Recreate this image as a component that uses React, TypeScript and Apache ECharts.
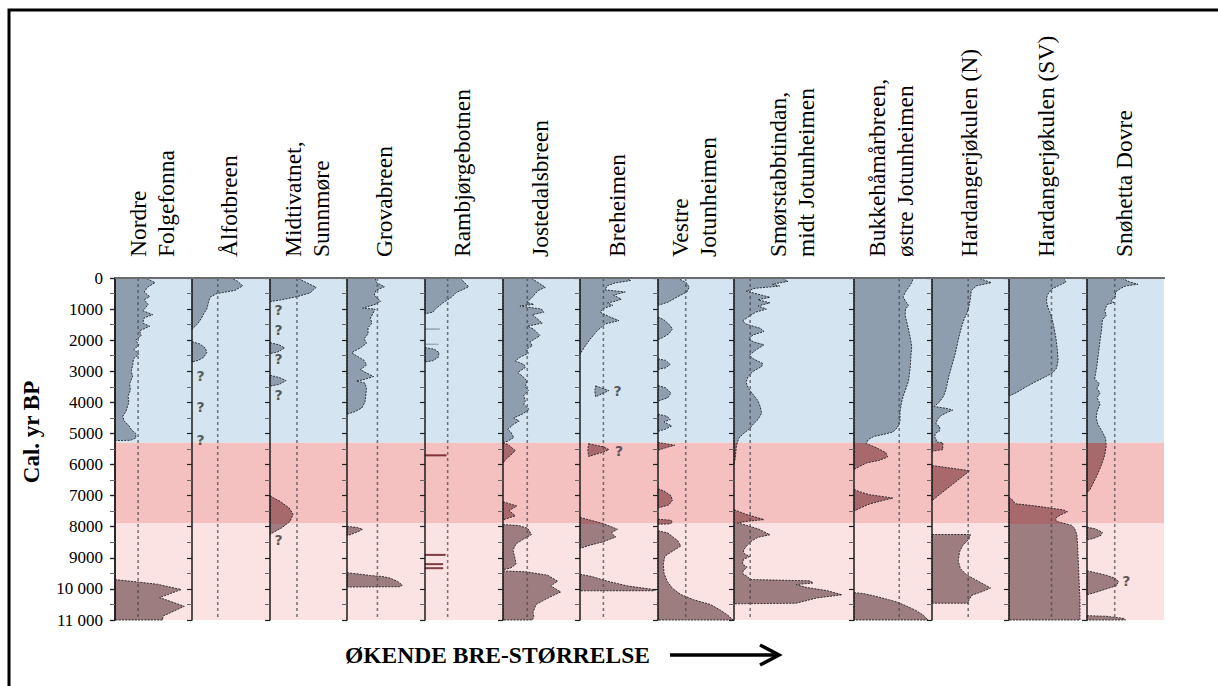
import React, { useEffect, useRef } from "react";
import * as echarts from "echarts";

// ---------- data ----------
const panelNames = [
  "Nordre\nFolgefonna",
  "Ålfotbreen",
  "Midtivatnet,\nSunnmøre",
  "Grovabreen",
  "Rambjørgebotnen",
  "Jostedalsbreen",
  "Breheimen",
  "Vestre\nJotunheimen",
  "Smørstabbtindan,\nmidt Jotunheimen",
  "Bukkehåmårbreen,\nøstre Jotunheimen",
  "Hardangerjøkulen (N)",
  "Hardangerjøkulen (SV)",
  "Snøhetta Dovre",
];

const yTickLabels = ["0", "1000", "2000", "3000", "4000", "5000", "6000", "7000", "8000", "9000", "10 000", "11 000"];

// period boundaries (cal. yr BP)
const bandEdges = [0, 5300, 7900, 11000];
const bandColors = ["#d4e5f1", "#f4c0c0", "#fbe3e3"];
const glacierFills = ["#8e9eaf", "#a8696d", "#9d7d80"];
const thinLineColors = ["#9aa9b8", "#7a2f33", "#7a3a3e"];

// present-day glacier size (fraction of panel width)
const presentSize = [0.3, 0.33, 0.35, 0.39, 0.29, 0.315, 0.3, 0.365, 0.135, 0.58, 0.47, 0.545, 0.36];

// glacier size profiles: [relative size, cal. yr BP]
const nordreFolgefonna = [
  [[0, 0], [0.4, 0], [0.52, 150], [0.42, 300], [0.38, 450], [0.45, 600], [0.38, 700], [0.43, 850], [0.4, 950], [0.36, 1050], [0.49, 1180], [0.38, 1280], [0.36, 1450], [0.45, 1550], [0.32, 1700], [0.34, 1850], [0.27, 2000], [0.31, 2150], [0.25, 2300], [0.31, 2450], [0.24, 2600], [0.23, 2800], [0.21, 3000], [0.23, 3150], [0.19, 3400], [0.2, 3600], [0.17, 3800], [0.18, 4000], [0.14, 4300], [0.1, 4450], [0.12, 4600], [0.18, 4750], [0.22, 4900], [0.27, 5000], [0.27, 5150], [0.2, 5220], [0, 5230]],
  [[0, 9700], [0.3, 9780], [0.55, 9850], [0.86, 10020], [0.58, 10280], [0.9, 10560], [0.62, 10880], [0.62, 11000], [0, 11000]],
];
const alfotbreen = [
  [[0, 0], [0.5, 0], [0.58, 100], [0.65, 250], [0.55, 400], [0.32, 500], [0.23, 620], [0.21, 800], [0.19, 1000], [0.15, 1150], [0.12, 1300], [0.08, 1450], [0.03, 1580], [0, 1650]],
  [[0, 2050], [0.1, 2120], [0.17, 2250], [0.19, 2400], [0.15, 2550], [0.08, 2650], [0, 2700]],
];
const midtivatnet = [
  [[0, 0], [0.36, 0], [0.45, 120], [0.6, 300], [0.52, 480], [0.35, 600], [0.15, 700], [0, 760]],
  [[0, 2080], [0.12, 2150], [0.19, 2250], [0.1, 2380], [0, 2430]],
  [[0, 3130], [0.12, 3200], [0.21, 3300], [0.12, 3420], [0, 3480]],
  [[0, 7000], [0.05, 7080], [0.13, 7180], [0.25, 7400], [0.3, 7600], [0.26, 7830], [0.15, 8040], [0.03, 8200], [0, 8260]],
];
const grovabreen = [
  [[0, 0], [0.36, 0], [0.38, 150], [0.48, 280], [0.37, 400], [0.35, 550], [0.43, 750], [0.36, 850], [0.2, 970], [0.36, 1000], [0.33, 1150], [0.3, 1300], [0.32, 1450], [0.27, 1600], [0.27, 1800], [0.22, 1950], [0.25, 2100], [0.17, 2250], [0.06, 2400], [0.12, 2500], [0.22, 2650], [0.25, 2800], [0.17, 2950], [0.34, 3170], [0.2, 3280], [0.12, 3310], [0.23, 3380], [0.25, 3550], [0.24, 3800], [0.23, 4000], [0.19, 4180], [0.1, 4300], [0, 4380]],
  [[0, 7990], [0.12, 8020], [0.2, 8080], [0.15, 8150], [0.05, 8250], [0, 8280]],
  [[0, 9480], [0.15, 9520], [0.3, 9570], [0.45, 9600], [0.55, 9650], [0.65, 9760], [0.71, 9880], [0.68, 9930], [0, 9940]],
];
const rambjorgebotnen = [
  [[0, 0], [0.45, 0], [0.5, 130], [0.56, 280], [0.48, 380], [0.4, 470], [0.34, 620], [0.23, 800], [0.14, 980], [0.1, 1100], [0, 1150]],
  [[0, 1635], [0.19, 1640], [0.19, 1645], [0, 1650]],
  [[0, 2125], [0.17, 2130], [0.17, 2135], [0, 2140]],
  [[0, 2240], [0.12, 2290], [0.18, 2400], [0.17, 2550], [0.1, 2660], [0, 2700]],
  [[0, 5690], [0.27, 5690], [0.27, 5720], [0, 5720]],
  [[0, 8890], [0.26, 8890], [0.26, 8920], [0, 8920]],
  [[0, 9190], [0.23, 9190], [0.23, 9220], [0, 9220]],
  [[0, 9320], [0.23, 9320], [0.23, 9350], [0, 9350]],
];
const jostedalsbreen = [
  [[0, 0], [0.36, 0], [0.44, 120], [0.55, 300], [0.46, 400], [0.42, 500], [0.38, 620], [0.31, 780], [0.4, 850], [0.22, 900], [0.5, 1000], [0.53, 1100], [0.38, 1180], [0.44, 1300], [0.51, 1450], [0.32, 1550], [0.4, 1650], [0.48, 1850], [0.42, 1950], [0.35, 2050], [0.38, 2180], [0.3, 2300], [0.33, 2420], [0.22, 2550], [0.16, 2670], [0.27, 2780], [0.29, 2880], [0.19, 3040], [0.25, 3150], [0.31, 3310], [0.29, 3500], [0.33, 3620], [0.27, 3780], [0.29, 3950], [0.27, 4060], [0.34, 4230], [0.25, 4380], [0.14, 4500], [0.21, 4600], [0.14, 4700], [0.06, 4870], [0.1, 4950], [0.14, 5130], [0.06, 5250], [0, 5300]],
  [[0, 5300], [0.06, 5350], [0.16, 5550], [0.1, 5700], [0.05, 5800], [0, 5950]],
  [[0, 7200], [0.18, 7330], [0.08, 7480], [0.16, 7650], [0, 7780]],
  [[0, 7930], [0.2, 7960], [0.32, 8050], [0.37, 8250], [0.28, 8380], [0.17, 8550], [0.13, 8750], [0.15, 8950], [0.17, 9200], [0.1, 9330], [0, 9380]],
  [[0, 9420], [0.3, 9450], [0.58, 9560], [0.71, 9750], [0.62, 9900], [0.75, 10100], [0.66, 10200], [0.54, 10350], [0.43, 10500], [0.39, 10750], [0.4, 10900], [0.38, 11000], [0, 11000]],
];
const breheimen = [
  [[0, 0], [0.6, 0], [0.65, 80], [0.45, 160], [0.35, 250], [0.32, 380], [0.58, 450], [0.43, 550], [0.53, 680], [0.45, 750], [0.35, 800], [0.42, 880], [0.3, 980], [0.26, 1100], [0.38, 1250], [0.5, 1370], [0.32, 1480], [0.22, 1700], [0.12, 2000], [0.05, 2250], [0, 2450]],
  [[0.2, 3470], [0.37, 3620], [0.2, 3820], [0.19, 3650]],
  [[0.11, 5330], [0.3, 5430], [0.37, 5520], [0.3, 5600], [0.11, 5740], [0.1, 5530]],
  [[0, 7700], [0.15, 7800], [0.3, 7900], [0.48, 8080], [0.4, 8200], [0.46, 8330], [0.3, 8480], [0.12, 8600], [0, 8700]],
  [[0, 9530], [0.15, 9600], [0.35, 9750], [0.6, 9900], [0.97, 10030], [0.95, 10060], [0, 10060]],
];
const vestreJotunheimen = [
  [[0, 0], [0.25, 0], [0.32, 80], [0.38, 170], [0.41, 300], [0.38, 450], [0.26, 600], [0.13, 780], [0, 880]],
  [[0, 1250], [0.08, 1350], [0.15, 1500], [0.19, 1640], [0.14, 1800], [0.06, 1920], [0, 1980]],
  [[0, 2600], [0.1, 2650], [0.16, 2780], [0.1, 2890], [0, 2940]],
  [[0, 3460], [0.1, 3530], [0.17, 3700], [0.13, 3850], [0, 3960]],
  [[0, 4380], [0.12, 4450], [0.16, 4550], [0.08, 4630], [0.18, 4760], [0.1, 4860], [0, 4930]],
  [[0, 5290], [0.22, 5380], [0.1, 5460], [0, 5540]],
  [[0, 6780], [0.08, 6850], [0.17, 7000], [0.19, 7150], [0.14, 7300], [0, 7400]],
  [[0, 7760], [0.17, 7790], [0.19, 7860], [0.15, 7910], [0, 7920]],
  [[0, 8130], [0.13, 8200], [0.26, 8450], [0.3, 8620], [0.17, 8820], [0.09, 8950], [0.07, 9200], [0.08, 9500], [0.12, 9750], [0.19, 9980], [0.3, 10180], [0.47, 10350], [0.69, 10500], [0.82, 10680], [0.92, 10850], [0.99, 11000], [0, 11000]],
];
const smorstabbtindan = [
  [[0, 0], [0.4, 0], [0.45, 110], [0.32, 200], [0.38, 260], [0.18, 330], [0.1, 420], [0.2, 520], [0.3, 620], [0.2, 700], [0.3, 800], [0.2, 900], [0.27, 1000], [0.18, 1100], [0.14, 1200], [0.07, 1380], [0.1, 1480], [0.22, 1620], [0.25, 1720], [0.16, 1830], [0.12, 1950], [0.16, 2050], [0.25, 2150], [0.18, 2320], [0.13, 2480], [0.16, 2600], [0.24, 2750], [0.23, 2850], [0.16, 3000], [0.12, 3150], [0.1, 3350], [0.12, 3550], [0.16, 3750], [0.2, 3950], [0.22, 4150], [0.23, 4350], [0.2, 4550], [0.16, 4700], [0.13, 4850], [0.08, 5000], [0.04, 5150], [0.02, 5400], [0.01, 5800], [0, 6000]],
  [[0, 7450], [0.1, 7600], [0.25, 7770], [0.1, 7830], [0.03, 7880], [0.1, 7950], [0.21, 8080], [0.3, 8260], [0.2, 8340], [0.15, 8450], [0.11, 8600], [0.08, 8750], [0.08, 8850], [0.13, 8960], [0.08, 9050], [0.07, 9200], [0.11, 9300], [0.08, 9400], [0.07, 9500], [0.11, 9600], [0.14, 9700], [0.63, 9740], [0.66, 9810], [0.52, 9860], [0.6, 9950], [0.78, 10060], [0.9, 10190], [0.69, 10290], [0.6, 10380], [0.52, 10460], [0, 10480]],
];
const bukkehamarbreen = [
  [[0, 0], [0.76, 0], [0.74, 150], [0.7, 300], [0.66, 450], [0.63, 600], [0.66, 750], [0.7, 880], [0.66, 1000], [0.655, 1200], [0.69, 1550], [0.72, 1900], [0.74, 2200], [0.73, 2500], [0.72, 2900], [0.7, 3300], [0.66, 3600], [0.63, 3800], [0.61, 4000], [0.59, 4300], [0.59, 4600], [0.56, 4800], [0.5, 4950], [0.38, 5030], [0.25, 5100], [0.18, 5200], [0.16, 5330], [0.29, 5460], [0.41, 5620], [0.43, 5760], [0.33, 5860], [0.16, 5950], [0.07, 6060], [0, 6160]],
  [[0, 6800], [0.08, 6880], [0.2, 6970], [0.4, 7040], [0.5, 7080], [0.38, 7150], [0.2, 7270], [0.08, 7400], [0, 7500]],
  [[0, 10120], [0.12, 10150], [0.25, 10220], [0.42, 10330], [0.55, 10420], [0.68, 10560], [0.8, 10700], [0.89, 10850], [0.95, 11000], [0, 11000]],
];
const hardangerN = [
  [[0, 0], [0.6, 0], [0.77, 150], [0.58, 250], [0.51, 400], [0.5, 650], [0.48, 900], [0.46, 1100], [0.42, 1300], [0.38, 1600], [0.34, 2000], [0.3, 2450], [0.26, 2800], [0.22, 3150], [0.18, 3600], [0.15, 3800], [0.1, 3980], [0.03, 4130], [0.1, 4160], [0.2, 4200], [0.27, 4250], [0.2, 4320], [0.12, 4420], [0.07, 4550], [0.05, 4700], [0.1, 4780], [0.1, 4920], [0.04, 5000], [0.04, 5140], [0.06, 5200], [0.05, 5270], [0.14, 5300], [0.14, 5520], [0.03, 5560], [0, 5570]],
  [[0, 6030], [0.49, 6200], [0, 7160]],
  [[0, 8250], [0.5, 8250], [0.48, 8400], [0.4, 8600], [0.36, 8800], [0.34, 9100], [0.37, 9350], [0.45, 9550], [0.6, 9750], [0.76, 9970], [0.68, 10060], [0.52, 10200], [0.48, 10350], [0.47, 10460], [0, 10460]],
];
const hardangerSV = [
  [[0, 0], [0.7, 0], [0.73, 130], [0.66, 220], [0.55, 350], [0.49, 550], [0.48, 750], [0.5, 950], [0.54, 1200], [0.57, 1500], [0.6, 1900], [0.62, 2300], [0.63, 2650], [0.61, 2900], [0.56, 3050], [0.45, 3200], [0.33, 3350], [0.22, 3500], [0.1, 3680], [0, 3800]],
  [[0, 7050], [0.05, 7150], [0.08, 7260], [0.3, 7320], [0.53, 7400], [0.7, 7460], [0.75, 7520], [0.66, 7620], [0.6, 7720], [0.6, 7800], [0.64, 7850], [0.8, 7950], [0.84, 8050], [0.87, 8250], [0.88, 8600], [0.89, 9200], [0.9, 9800], [0.91, 10400], [0.91, 11000], [0, 11000]],
];
const snohettaDovre = [
  [[0, 0], [0.45, 0], [0.55, 120], [0.66, 200], [0.5, 260], [0.44, 330], [0.37, 450], [0.37, 600], [0.31, 720], [0.35, 790], [0.26, 850], [0.23, 1050], [0.25, 1200], [0.2, 1350], [0.19, 1650], [0.17, 2000], [0.15, 2400], [0.13, 2800], [0.11, 3100], [0.1, 3250], [0.16, 3400], [0.13, 3550], [0.17, 3700], [0.13, 3850], [0.17, 4050], [0.13, 4300], [0.12, 4500], [0.14, 4700], [0.2, 4950], [0.24, 5150], [0.25, 5400], [0.23, 5700], [0.19, 6000], [0.14, 6300], [0.08, 6600], [0.04, 6800], [0, 6900]],
  [[0, 8020], [0.1, 8060], [0.2, 8180], [0.18, 8280], [0.08, 8380], [0, 8420]],
  [[0, 9420], [0.1, 9470], [0.25, 9560], [0.36, 9650], [0.41, 9760], [0.38, 9900], [0.25, 10000], [0.1, 10120], [0, 10190]],
  [[0, 10860], [0.25, 10880], [0.48, 10950], [0.5, 11000], [0, 11000]],
];

const profiles = [
  nordreFolgefonna, alfotbreen, midtivatnet, grovabreen, rambjorgebotnen, jostedalsbreen, breheimen,
  vestreJotunheimen, smorstabbtindan, bukkehamarbreen, hardangerN, hardangerSV, snohettaDovre,
];

// uncertain ages ("?")
const alfotQuestions = [[0.11, 3150], [0.11, 4150], [0.11, 5200]];
const midtivatnetQuestions = [[0.11, 1020], [0.11, 1680], [0.11, 2600], [0.11, 3750], [0.11, 8440]];
const breheimenQuestions = [[0.48, 3640], [0.5, 5560]];
const snohettaQuestions = [[0.51, 9760]];
const questionMarks = [[], alfotQuestions, midtivatnetQuestions, [], [], [], breheimenQuestions, [], [], [], [], [], snohettaQuestions];

// ---------- layout ----------
const panelEdges = [115, 192, 270, 347, 425, 503, 580, 658, 734, 854, 932, 1009, 1087, 1164];
const plotTop = 278;
const plotHeight = 342;
const SERIF = "Liberation Serif, Times New Roman, serif";

export default function App() {
  const ref = useRef<HTMLDivElement>(null);

  useEffect(() => {
    if (!ref.current) return;
    const chart = echarts.init(ref.current, null, { renderer: "svg" });
    const yMax = bandEdges[bandEdges.length - 1];
    const n = panelNames.length;

    const bandOf = (y: number) => {
      for (let k = 0; k < bandColors.length; k++) if (y < bandEdges[k + 1]) return k;
      return bandColors.length - 1;
    };

    const grids: any[] = [];
    const xAxes: any[] = [];
    const yAxes: any[] = [];
    const series: any[] = [];
    const graphics: any[] = [];

    for (let i = 0; i < n; i++) {
      const left = panelEdges[i];
      const width = panelEdges[i + 1] - panelEdges[i];
      grids.push({ left, top: plotTop, width, height: plotHeight });
      xAxes.push({ gridIndex: i, type: "value", min: 0, max: 1, show: false });
      yAxes.push({
        gridIndex: i,
        type: "value",
        min: 0,
        max: yMax,
        interval: 1000,
        inverse: true,
        z: 6,
        axisLine: { show: true, lineStyle: { color: "#1c1c1c", width: 1.5 } },
        axisTick: { show: true, inside: false, length: 5, lineStyle: { color: "#222", width: 1.2 } },
        minorTick: { show: true, splitNumber: 2, length: 5, lineStyle: { color: "#666", width: 1 } },
        splitLine: { show: false },
        minorSplitLine: { show: false },
        axisLabel:
          i === 0
            ? {
                show: true,
                margin: 12,
                color: "#000",
                fontFamily: SERIF,
                fontSize: 17,
                formatter: (v: number) => yTickLabels[Math.round(v / 1000)],
              }
            : { show: false },
      });

      // background period bands
      series.push({
        type: "custom",
        xAxisIndex: i,
        yAxisIndex: i,
        z: 1,
        silent: true,
        clip: false,
        data: bandColors.map((_, k) => [0.5, bandEdges[k]]),
        renderItem: (params: any, api: any) => {
          const k = params.dataIndex;
          const p0 = api.coord([0, bandEdges[k]]);
          const p1 = api.coord([1, bandEdges[k + 1]]);
          return {
            type: "rect",
            shape: { x: p0[0], y: p0[1], width: p1[0] - p0[0], height: p1[1] - p0[1] },
            style: { fill: bandColors[k] },
          };
        },
      });

      // glacier extent polygons
      const polys = profiles[i];
      series.push({
        type: "custom",
        xAxisIndex: i,
        yAxisIndex: i,
        z: 2,
        silent: true,
        clip: false,
        data: polys.map((p) => [p[0][0], p[0][1]]),
        renderItem: (params: any, api: any) => {
          const poly = polys[params.dataIndex];
          const pts = poly.map((p) => api.coord([p[0], p[1]]));
          const ys = poly.map((p) => p[1]);
          const span = Math.max(...ys) - Math.min(...ys);
          if (span < 60) {
            const k = bandOf(ys[0]);
            return {
              type: "polygon",
              shape: { points: pts },
              style: { fill: thinLineColors[k], stroke: thinLineColors[k], lineWidth: 1 },
            };
          }
          const yTop = api.coord([0, 0])[1];
          const yBot = api.coord([0, yMax])[1];
          const stops: any[] = [];
          for (let k = 0; k < glacierFills.length; k++) {
            stops.push({ offset: bandEdges[k] / yMax, color: glacierFills[k] });
            stops.push({ offset: bandEdges[k + 1] / yMax, color: glacierFills[k] });
          }
          return {
            type: "polygon",
            shape: { points: pts },
            style: {
              fill: new echarts.graphic.LinearGradient(0, yTop, 0, yBot, stops, true),
              stroke: "rgba(25,25,30,0.85)",
              lineWidth: 1,
              lineDash: [2, 1.2],
            },
          };
        },
      });

      // present-day glacier size
      series.push({
        type: "line",
        xAxisIndex: i,
        yAxisIndex: i,
        z: 3,
        silent: true,
        symbol: "none",
        data: [[presentSize[i], 0], [presentSize[i], yMax]],
        lineStyle: { color: "rgba(70,70,80,0.7)", width: 1.6, type: [3, 3] },
      });

      // question marks
      if (questionMarks[i].length) {
        series.push({
          type: "scatter",
          xAxisIndex: i,
          yAxisIndex: i,
          z: 4,
          silent: true,
          symbolSize: 0,
          data: questionMarks[i],
          label: {
            show: true,
            position: "inside",
            formatter: "?",
            color: "#333",
            fontSize: 14,
            fontWeight: "bold",
            fontFamily: "DejaVu Sans, sans-serif",
          },
        });
      }

      // column header
      const center = (panelEdges[i] + panelEdges[i + 1]) / 2;
      const twoLines = panelNames[i].indexOf("\n") >= 0;
      graphics.push({
        type: "text",
        x: twoLines ? center - 2 : center - 2,
        y: 257,
        rotation: Math.PI / 2,
        style: {
          text: panelNames[i],
          fill: "#000",
          fontFamily: SERIF,
          fontSize: 23.5,
          lineHeight: 28,
          textAlign: "left",
          textVerticalAlign: "middle",
        },
      });
    }

    // outer frame: top / bottom lines and right-hand axis
    const gi = n;
    grids.push({ left: panelEdges[0], top: plotTop, width: panelEdges[n] - panelEdges[0], height: plotHeight });
    xAxes.push({
      gridIndex: gi, type: "value", min: 0, max: 1, position: "bottom", z: 7,
      axisLine: { show: true, lineStyle: { color: "#4a4a4a", width: 2 } },
      axisTick: { show: false }, axisLabel: { show: false }, splitLine: { show: false },
    });
    xAxes.push({
      gridIndex: gi, type: "value", min: 0, max: 1, position: "top", z: 7,
      axisLine: { show: true, lineStyle: { color: "#777", width: 1.5 } },
      axisTick: { show: false }, axisLabel: { show: false }, splitLine: { show: false },
    });
    yAxes.push({
      gridIndex: gi, type: "value", min: 0, max: yMax, interval: 1000, inverse: true, position: "right", z: 7,
      axisLine: { show: true, lineStyle: { color: "#1c1c1c", width: 1.5 } },
      axisTick: { show: true, inside: true, length: 5, lineStyle: { color: "#222", width: 1.2 } },
      minorTick: { show: true, splitNumber: 2, length: 5, lineStyle: { color: "#666", width: 1 } },
      axisLabel: { show: false }, splitLine: { show: false },
    });

    graphics.push(
      {
        type: "rect",
        shape: { x: 9, y: 10, width: 1220, height: 700 },
        style: { fill: "none", stroke: "#000", lineWidth: 3 },
        z: 0,
      },
      {
        type: "text",
        x: 31,
        y: 432,
        rotation: Math.PI / 2,
        style: {
          text: "Cal. yr BP",
          fill: "#000",
          fontFamily: SERIF,
          fontWeight: "bold",
          fontSize: 23,
          textAlign: "center",
          textVerticalAlign: "middle",
        },
      },
      {
        type: "text",
        x: 345,
        y: 655,
        style: {
          text: "ØKENDE BRE-STØRRELSE",
          fill: "#000",
          fontFamily: SERIF,
          fontWeight: "bold",
          fontSize: 23.5,
          textAlign: "left",
          textVerticalAlign: "middle",
        },
      },
      {
        type: "line",
        shape: { x1: 670, y1: 655, x2: 778, y2: 655 },
        style: { stroke: "#000", lineWidth: 3.5 },
      },
      {
        type: "polyline",
        shape: { points: [[760, 645], [779, 655], [760, 665]] },
        style: { stroke: "#000", lineWidth: 3.5, fill: "none" },
      }
    );

    chart.setOption({
      animation: false,
      backgroundColor: "#fff",
      grid: grids,
      xAxis: xAxes,
      yAxis: yAxes,
      series,
      graphic: graphics,
    });

    return () => chart.dispose();
  }, []);

  return <div ref={ref} style={{ position: "absolute", left: 0, top: 0, width: 1218, height: 686 }} />;
}
